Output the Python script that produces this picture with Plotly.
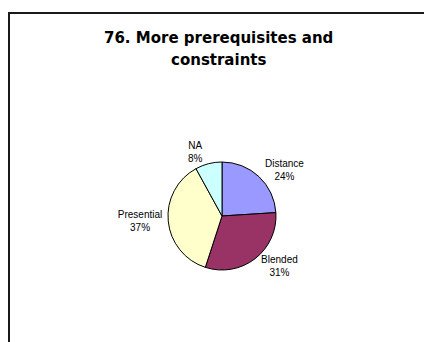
import plotly.graph_objects as go

title_lines = ["76. More prerequisites and", "constraints"]
labels = ["Distance", "Blended", "Presential", "NA"]
values = [24, 31, 37, 8]
colors = ["#9999FF", "#993366", "#FFFFCC", "#CCFFFF"]

# page body has an 8px margin, so the figure is drawn 8px in from the window edge
OFF = 8
W, H = 432 - OFF, 342 - OFF
cx, cy, r = 222 - OFF, 216 - OFF, 54

fig = go.Figure(go.Pie(
    labels=labels,
    values=values,
    sort=False,
    direction="clockwise",
    rotation=0,
    marker=dict(colors=colors, line=dict(color="#000000", width=1)),
    textposition="outside",
    texttemplate="%{label}<br>%{percent:.0%}",
    outsidetextfont=dict(family="Liberation Sans, Arial", size=10, color="#000000"),
    domain=dict(x=[(cx - r) / W, (cx + r) / W], y=[(H - cy - r) / H, (H - cy + r) / H]),
    showlegend=False,
    hoverinfo="label+percent",
))

title_y = [38 - OFF, 60 - OFF]
annotations = [
    dict(text="<b>" + t + "</b>", x=(218 - OFF) / W, y=1 - ty / H, xref="paper", yref="paper",
         xanchor="center", yanchor="middle", showarrow=False,
         font=dict(family="DejaVu Sans", size=15, color="#000000"))
    for t, ty in zip(title_lines, title_y)
]

fig.update_layout(
    width=W, height=H,
    margin=dict(l=0, r=0, t=0, b=0),
    paper_bgcolor="#FFFFFF",
    plot_bgcolor="#FFFFFF",
    annotations=annotations,
    shapes=[dict(type="rect", xref="paper", yref="paper",
                 x0=1 / W, x1=1.05, y0=-0.05, y1=1 - 5 / H,
                 line=dict(color="#1a1a1a", width=2), fillcolor="rgba(0,0,0,0)")],
)

fig.write_html("out.html")
